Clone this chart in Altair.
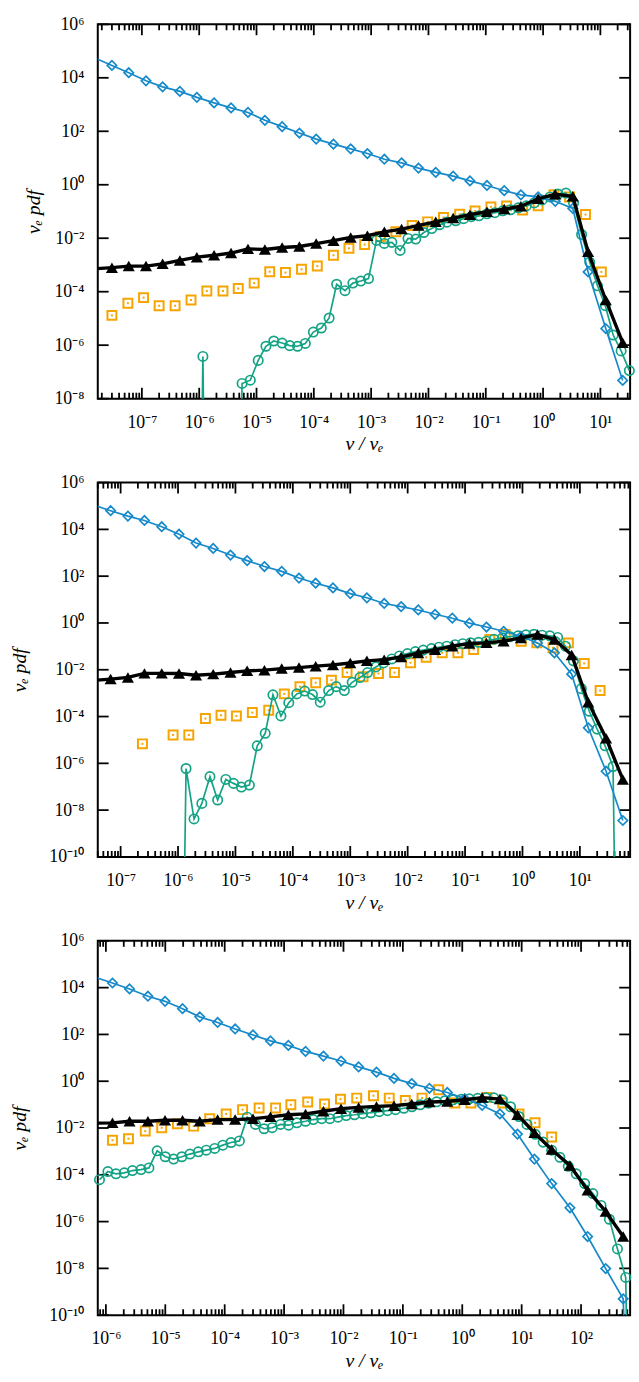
import json
import math
import altair as alt
import pandas as pd

FONT = "Liberation Serif"
BLUE = "#1589c9"
GREEN = "#14a384"
ORANGE = "#f6a400"
BLACK = "#000000"
TINY = 1e-30

PANEL_W = 539
PANEL_H = 379

# ---------------- panel 1 ----------------
P1_X_DOMAIN = [1.7e-8, 33.0]
P1_Y_DOMAIN = [1e-8, 1e6]
P1_X_MAJOR = [-7, -6, -5, -4, -3, -2, -1, 0, 1]
P1_Y_MAJOR = [-8, -6, -4, -2, 0, 2, 4, 6]
P1_GRID_X = [1.5e-8, 3.0e-8, 5.9e-8, 1.18e-7, 2.3e-7, 4.6e-7, 9.1e-7, 1.82e-6, 3.6e-6, 7.1e-6,
             1.4e-5, 2.8e-5, 5.6e-5, 1.1e-4, 2.2e-4, 4.4e-4, 8.6e-4, 1.7e-3, 3.4e-3, 6.7e-3,
             1.34e-2, 2.7e-2, 5.3e-2, 0.105, 0.21, 0.41, 0.82, 1.63, 3.3, 6.1, 12.4, 24.5]
P1_BLUE_Y = [5.6e4, 2.9e4, 1.55e4, 7.7e3, 4.6e3, 3.1e3, 1.86e3, 1.15e3, 750, 507,
             257, 149, 86, 51, 33, 22, 14.7, 9.0, 6.6, 4.2,
             2.9, 2.1, 1.39, 0.94, 0.60, 0.42, 0.35, 0.24, 0.13, 5.5e-4, 4.2e-6, 4.8e-8]
P1_BLACK_Y = [7.2e-4, 7.9e-4, 9.1e-4, 9.1e-4, 1.1e-3, 1.48e-3, 1.96e-3, 2.3e-3, 2.8e-3, 4.0e-3,
              3.8e-3, 4.5e-3, 4.9e-3, 6.3e-3, 8.1e-3, 1.07e-2, 1.24e-2, 1.74e-2, 2.2e-2, 3.0e-2,
              4.1e-2, 5.7e-2, 7.6e-2, 9.8e-2, 0.123, 0.158, 0.30, 0.44, 0.37, 3.1e-3, 4.9e-5, 1.24e-6]
P1_ORANGE_X = [3.0e-8, 5.7e-8, 1.07e-7, 2.0e-7, 3.8e-7, 7.2e-7, 1.36e-6, 2.6e-6, 4.8e-6, 9.1e-6,
               1.7e-5, 3.2e-5, 6.1e-5, 1.15e-4, 2.2e-4, 4.1e-4, 7.7e-4, 1.45e-3, 2.7e-3, 5.2e-3,
               9.7e-3, 1.83e-2, 3.5e-2, 6.5e-2, 0.123, 0.23, 0.44, 0.82, 1.55, 2.9, 5.5, 10.4]
P1_ORANGE_Y = [1.3e-5, 3.7e-5, 6.0e-5, 3.0e-5, 3.0e-5, 4.9e-5, 1.06e-4, 1.06e-4, 1.32e-4, 2.1e-4,
               5.6e-4, 5.2e-4, 6.9e-4, 9.1e-4, 2.3e-3, 4.2e-3, 5.8e-3, 1.16e-2, 1.74e-2, 3.0e-2,
               4.1e-2, 6.0e-2, 7.9e-2, 0.104, 0.149, 0.162, 0.113, 0.162, 0.42, 0.35, 7.7e-2, 5.5e-4]
P1_GREEN_X = [8.4e-7, 1.16e-6, 1.59e-6, 4.1e-6, 5.6e-6, 7.8e-6, 1.07e-5, 1.46e-5, 2.0e-5, 2.8e-5,
              3.8e-5, 5.2e-5, 7.1e-5, 9.8e-5, 1.35e-4, 1.85e-4, 2.5e-4, 3.5e-4, 4.8e-4, 6.6e-4,
              9.0e-4, 1.24e-3, 1.70e-3, 2.3e-3, 3.2e-3, 4.4e-3, 6.0e-3, 8.3e-3, 1.14e-2, 1.56e-2,
              2.1e-2, 3.0e-2, 4.1e-2, 5.6e-2, 7.6e-2, 0.105, 0.144, 0.198, 0.27, 0.37,
              0.51, 0.70, 0.96, 1.32, 1.82, 2.5, 3.4, 4.7, 6.5, 8.9, 12.2, 16.7, 23, 32]
P1_GREEN_Y = [TINY, 3.8e-7, TINY, TINY, 3.7e-8, 4.9e-8, 2.7e-7, 9.1e-7, 1.43e-6, 1.2e-6,
              9.6e-7, 9.1e-7, 1.16e-6, 3.1e-6, 4.4e-6, 1.04e-5, 1.9e-4, 1.09e-4, 2.1e-4, 2.5e-4,
              3.1e-4, 8.3e-3, 6.4e-3, 7.0e-3, 3.5e-3, 9.8e-3, 9.3e-3, 1.64e-2, 2.3e-2, 3.2e-2,
              4.0e-2, 4.5e-2, 5.4e-2, 6.4e-2, 6.9e-2, 8.2e-2, 9.0e-2, 0.106, 0.116, 0.137,
              0.162, 0.21, 0.27, 0.35, 0.45, 0.49, 0.21, 1.38e-2, 1.28e-3, 1.66e-4, 3.0e-5, 2.4e-6, 6.1e-7, 1.12e-7]

# ---------------- panel 2 ----------------
P2_X_DOMAIN = [4.0e-8, 75.0]
P2_Y_DOMAIN = [1e-10, 1e6]
P2_X_MAJOR = [-7, -6, -5, -4, -3, -2, -1, 0, 1]
P2_Y_MAJOR = [-10, -8, -6, -4, -2, 0, 2, 4, 6]
P2_GRID_X = [3.35e-8, 6.7e-8, 1.34e-7, 2.6e-7, 5.2e-7, 1.04e-6, 2.06e-6, 4.1e-6, 8.2e-6, 1.6e-5,
             3.2e-5, 6.4e-5, 1.28e-4, 2.5e-4, 5.0e-4, 1.0e-3, 1.95e-3, 3.9e-3, 7.7e-3, 1.53e-2,
             3.0e-2, 6.0e-2, 0.119, 0.236, 0.47, 0.94, 1.83, 3.6, 7.2, 14, 28.6, 56]
P2_BLUE_Y = [1.1e5, 6.3e4, 3.7e4, 2.4e4, 1.3e4, 6.2e3, 2.6e3, 1.53e3, 800, 464,
             259, 160, 83, 50, 31.5, 18, 11.9, 6.8, 5.0, 3.6,
             2.35, 1.6, 0.98, 0.67, 0.44, 0.27, 0.14, 0.053, 6.5e-3, 3.3e-5, 4.6e-7, 3.6e-9]
P2_BLACK_Y = [3.5e-3, 4.0e-3, 4.7e-3, 7.0e-3, 7.0e-3, 6.9e-3, 5.8e-3, 6.5e-3, 7.6e-3, 9.0e-3,
              9.6e-3, 1.12e-2, 1.24e-2, 1.42e-2, 1.61e-2, 1.95e-2, 2.4e-2, 2.7e-2, 3.5e-2, 5.2e-2,
              7.1e-2, 0.102, 0.132, 0.141, 0.166, 0.23, 0.32, 0.195, 4.3e-2, 4.1e-4, 1.18e-5, 2.05e-7]
P2_ORANGE_X = [2.4e-7, 8.2e-7, 1.54e-6, 3.0e-6, 5.6e-6, 1.04e-5, 1.97e-5, 3.8e-5, 7.1e-5, 1.33e-4,
               2.5e-4, 4.7e-4, 8.8e-4, 1.67e-3, 3.1e-3, 5.9e-3, 1.12e-2, 2.1e-2, 4.0e-2, 7.5e-2,
               0.141, 0.27, 0.50, 0.95, 1.78, 3.4, 6.3, 11.9, 22.5]
P2_ORANGE_Y = [6.8e-6, 1.63e-5, 1.63e-5, 8.2e-5, 1.13e-4, 1.06e-4, 1.48e-4, 1.85e-4, 9.3e-4, 1.9e-3,
               2.8e-3, 3.6e-3, 7.6e-3, 5.0e-3, 6.9e-3, 7.6e-3, 2.0e-2, 3.4e-2, 5.3e-2, 5.3e-2,
               7.4e-2, 0.195, 0.32, 0.166, 0.141, 8.7e-2, 0.141, 1.86e-2, 1.29e-3]
P2_GREEN_X = [1.0e-6, 1.38e-6, 1.90e-6, 2.6e-6, 3.6e-6, 4.9e-6, 6.8e-6, 9.3e-6, 1.27e-5, 1.75e-5,
              2.4e-5, 3.3e-5, 4.5e-5, 6.2e-5, 8.5e-5, 1.17e-4, 1.61e-4, 2.2e-4, 3.0e-4, 4.2e-4,
              5.7e-4, 7.9e-4, 1.08e-3, 1.48e-3, 2.0e-3, 2.8e-3, 3.8e-3, 5.3e-3, 7.2e-3, 9.9e-3,
              1.36e-2, 1.87e-2, 2.6e-2, 3.5e-2, 4.8e-2, 6.7e-2, 9.1e-2, 0.125, 0.172, 0.236,
              0.32, 0.45, 0.61, 0.84, 1.15, 1.58, 2.2, 3.0, 4.1, 5.6,
              7.7, 10.6, 14.6, 20, 27.5, 37.8, 52]
P2_GREEN_Y = [TINY, 6.0e-7, 4.2e-9, 1.94e-8, 2.7e-7, 2.7e-8, 2.05e-7, 1.39e-7, 9.7e-8, 1.18e-7,
              5.6e-6, 1.92e-5, 8.5e-4, 1.06e-4, 3.9e-4, 9.3e-4, 1.23e-3, 8.7e-4, 4.1e-4, 1.29e-3,
              1.9e-3, 1.29e-3, 2.9e-3, 4.7e-3, 7.6e-3, 1.32e-2, 1.95e-2, 2.9e-2, 3.9e-2, 4.9e-2,
              6.0e-2, 6.9e-2, 8.0e-2, 9.2e-2, 0.102, 0.118, 0.130, 0.143, 0.150, 0.166,
              0.20, 0.23, 0.26, 0.28, 0.31, 0.33, 0.30, 0.28, 0.24, 0.102,
              2.4e-2, 1.56e-3, 1.68e-4, 2.9e-5, 5.6e-6, 7.3e-7, TINY]

# ---------------- panel 3 ----------------
P3_X_DOMAIN = [7.3e-7, 670.0]
P3_Y_DOMAIN = [1e-10, 1e6]
P3_X_MAJOR = [-6, -5, -4, -3, -2, -1, 0, 1, 2]
P3_Y_MAJOR = [-10, -8, -6, -4, -2, 0, 2, 4, 6]
P3_GRID_X = [6.5e-7, 1.29e-6, 2.5e-6, 5.1e-6, 9.9e-6, 1.95e-5, 3.8e-5, 7.6e-5, 1.5e-4, 3.0e-4,
             5.9e-4, 1.18e-3, 2.3e-3, 4.6e-3, 9.1e-3, 1.8e-2, 3.6e-2, 7.1e-2, 0.141, 0.28,
             0.56, 1.1, 2.16, 4.3, 8.5, 16.4, 32, 65, 129, 260, 512]
P3_BLUE_X = [6.5e-7, 1.29e-6, 2.5e-6, 5.1e-6, 9.9e-6, 1.95e-5, 3.8e-5, 7.6e-5, 1.5e-4, 3.0e-4,
             5.9e-4, 1.18e-3, 2.3e-3, 4.6e-3, 9.1e-3, 1.8e-2, 3.6e-2, 7.1e-2, 0.141, 0.28,
             0.56, 1.1, 2.16, 4.3, 8.5, 16.4, 32, 65, 129, 260, 512, 1000]
P3_BLUE_Y = [2.8e4, 1.58e4, 8.8e3, 4.3e3, 2.6e3, 1.26e3, 564, 324, 171, 95,
             53, 34, 18.8, 11.9, 7.3, 4.1, 2.44, 1.32, 0.79, 0.50,
             0.33, 0.18, 0.092, 0.040, 5.5e-3, 4.7e-4, 4.2e-5, 3.9e-6, 2.3e-7, 9.8e-9, 5.0e-10, TINY]
P3_BLACK_Y = [1.6e-2, 1.67e-2, 1.95e-2, 1.95e-2, 2.15e-2, 2.15e-2, 1.95e-2, 2.3e-2, 2.3e-2, 2.5e-2,
              3.0e-2, 3.7e-2, 4.0e-2, 5.2e-2, 6.7e-2, 7.6e-2, 8.4e-2, 9.0e-2, 0.106, 0.129,
              0.136, 0.161, 0.20, 0.172, 3.7e-2, 6.3e-3, 1.21e-3, 2.5e-4, 2.2e-5, 2.7e-6, 2.3e-7]
P3_ORANGE_X = [1.29e-6, 2.4e-6, 4.6e-6, 8.7e-6, 1.6e-5, 3.0e-5, 5.6e-5, 1.06e-4, 2.0e-4, 3.8e-4,
               7.2e-4, 1.3e-3, 2.5e-3, 4.8e-3, 8.9e-3, 1.67e-2, 3.2e-2, 5.9e-2, 0.110, 0.21,
               0.40, 0.75, 1.4, 2.6, 4.8, 9.0, 16.8, 32]
P3_ORANGE_Y = [3.0e-3, 3.5e-3, 7.4e-3, 1.03e-2, 1.52e-2, 1.2e-2, 2.5e-2, 4.0e-2, 6.1e-2, 7.2e-2,
               7.2e-2, 9.9e-2, 0.13, 0.106, 0.172, 0.19, 0.24, 0.19, 0.150, 0.19,
               0.43, 0.117, 0.117, 0.20, 0.117, 4.0e-2, 1.67e-2, 4.1e-3]
P3_GREEN_X = [7.8e-7, 1.08e-6, 1.48e-6, 2.04e-6, 2.8e-6, 3.9e-6, 5.3e-6, 7.3e-6, 1.0e-5, 1.38e-5,
              1.90e-5, 2.6e-5, 3.6e-5, 4.9e-5, 6.8e-5, 9.3e-5, 1.28e-4, 1.77e-4, 2.4e-4, 3.3e-4,
              4.6e-4, 6.3e-4, 8.7e-4, 1.19e-3, 1.64e-3, 2.3e-3, 3.1e-3, 4.3e-3, 5.9e-3, 8.1e-3,
              1.11e-2, 1.53e-2, 2.1e-2, 2.9e-2, 4.0e-2, 5.5e-2, 7.5e-2, 0.104, 0.142, 0.196,
              0.27, 0.37, 0.51, 0.70, 0.96, 1.32, 1.82, 2.5, 3.4, 4.7,
              6.5, 9.0, 12.3, 16.9, 23, 32, 44, 61, 83, 115,
              158, 217, 300, 410, 565, 776]
P3_GREEN_Y = [6.2e-5, 1.38e-4, 1.10e-4, 1.21e-4, 1.52e-4, 1.67e-4, 1.97e-4, 1.06e-3, 5.9e-4, 4.7e-4,
              5.9e-4, 7.7e-4, 9.6e-4, 1.13e-3, 1.34e-3, 1.85e-3, 2.4e-3, 2.8e-3, 2.9e-2, 1.42e-2,
              9.3e-3, 1.03e-2, 1.42e-2, 1.32e-2, 1.67e-2, 1.95e-2, 2.3e-2, 2.5e-2, 2.5e-2, 2.9e-2,
              3.4e-2, 3.7e-2, 4.1e-2, 4.5e-2, 5.0e-2, 5.5e-2, 6.1e-2, 7.0e-2, 8.1e-2, 9.9e-2,
              0.115, 0.132, 0.146, 0.161, 0.169, 0.177, 0.186, 0.195, 0.195, 0.161,
              8.1e-2, 3.1e-2, 1.42e-2, 5.4e-3, 2.5e-3, 1.13e-3, 5.6e-4, 2.3e-4, 1.10e-4, 4.2e-5,
              1.58e-5, 4.9e-6, 1.26e-6, 6.8e-8, 4.1e-9, TINY]

X_TITLE = "v / vₑ"
Y_TITLE = "vₑ pdf"
SUP = str.maketrans("-0123456789", "⁻⁰¹²³⁴⁵⁶⁷⁸⁹")

MAJOR_LEN = 11
MINOR_LEN = 6
TICK_W = 1.8

AX = dict(domain=False, grid=False, ticks=False, tickSize=0,
          labelFont=FONT, labelFontSize=18, labelColor="black",
          titleFont=FONT, titleFontSize=20, titleFontStyle="italic",
          titleFontWeight="normal", titleColor="black",
          labelFlush=False, labelOverlap=False)


def minor_ticks(dom):
    lo = math.floor(math.log10(dom[0]))
    hi = math.ceil(math.log10(dom[1]))
    out = []
    for e in range(lo, hi + 1):
        for m in range(2, 10):
            v = m * 10.0 ** e
            if dom[0] <= v <= dom[1]:
                out.append(v)
    return out


def label_expr(exps):
    lo, hi = min(exps), max(exps)
    arr = ["10" + str(e).translate(SUP) for e in range(lo, hi + 1)]
    return json.dumps(arr, ensure_ascii=False) + "[round(log(datum.value)/LN10)+(%d)]" % (-lo)


def panel(xdom, ydom, xmaj, ymaj, blue, black, orange, green, ytitle_pad):
    xs = alt.Scale(type="log", domain=xdom, nice=False)
    ys = alt.Scale(type="log", domain=ydom, nice=False)
    xmajv = pd.DataFrame({"v": [10.0 ** e for e in xmaj]})
    ymajv = pd.DataFrame({"v": [10.0 ** e for e in ymaj]})
    xminv = pd.DataFrame({"v": minor_ticks(xdom)})
    corner = pd.DataFrame({"x": [xdom[0]], "y": [ydom[0]]})

    def X(f="x:Q"):
        return alt.X(f, scale=xs, axis=None)

    def Y(f="y:Q"):
        return alt.Y(f, scale=ys, axis=None)

    axis_layer = alt.Chart(corner).mark_point(opacity=0).encode(
        x=alt.X("x:Q", scale=xs, axis=alt.Axis(
            orient="bottom", values=list(xmajv["v"]), labelExpr=label_expr(xmaj),
            labelPadding=15, title=X_TITLE, titlePadding=3, **AX)),
        y=alt.Y("y:Q", scale=ys, axis=alt.Axis(
            orient="left", values=list(ymajv["v"]), labelExpr=label_expr(ymaj),
            labelPadding=14, title=Y_TITLE, titlePadding=ytitle_pad, **AX)))

    def vtick(d, length, yc):
        return alt.Chart(d).mark_tick(orient="vertical", size=length, thickness=TICK_W,
                                      color="black", opacity=1).encode(
            x=X("v:Q"), y=alt.value(yc))

    def htick(d, length, xc):
        return alt.Chart(d).mark_tick(orient="horizontal", size=length, thickness=TICK_W,
                                      color="black", opacity=1).encode(
            y=Y("v:Q"), x=alt.value(xc))

    tick_layers = [
        vtick(xmajv, MAJOR_LEN, PANEL_H - MAJOR_LEN / 2),
        vtick(xminv, MINOR_LEN, PANEL_H - MINOR_LEN / 2),
        vtick(xmajv, MAJOR_LEN, MAJOR_LEN / 2),
        vtick(xminv, MINOR_LEN, MINOR_LEN / 2),
        htick(ymajv, MAJOR_LEN, MAJOR_LEN / 2),
        htick(ymajv, MAJOR_LEN, PANEL_W - MAJOR_LEN / 2),
    ]

    inside = ("datum.x >= %g && datum.x <= %g && datum.y >= %g && datum.y <= %g"
              % (xdom[0], xdom[1], ydom[0], ydom[1]))

    def enc(ch):
        return ch.encode(x=X(), y=Y())

    def df(xv, yv):
        return pd.DataFrame({"x": xv, "y": yv})

    d_orange = df(*orange)
    d_green = df(*green)
    d_blue = df(*blue)
    d_black = df(*black)

    data_layers = [
        enc(alt.Chart(d_orange).transform_filter(inside).mark_point(
            shape="square", size=82, filled=False, strokeWidth=2.0, color=ORANGE, opacity=1)),
        enc(alt.Chart(d_orange).transform_filter(inside).mark_point(
            shape="square", size=4, filled=True, color=ORANGE, opacity=1)),
        enc(alt.Chart(d_green).mark_line(color=GREEN, strokeWidth=1.7, clip=True)),
        enc(alt.Chart(d_green).transform_filter(inside).mark_point(
            shape="circle", size=90, filled=False, strokeWidth=1.7, color=GREEN, opacity=1)),
        enc(alt.Chart(d_blue).mark_line(color=BLUE, strokeWidth=1.7, clip=True)),
        enc(alt.Chart(d_blue).transform_filter(inside).mark_point(
            shape="diamond", size=90, filled=False, strokeWidth=1.7, color=BLUE, opacity=1)),
        enc(alt.Chart(d_black).mark_line(color=BLACK, strokeWidth=3.4, clip=True)),
        enc(alt.Chart(d_black).transform_filter(inside).mark_point(
            shape="triangle-up", size=150, filled=True, color=BLACK, opacity=1)),
    ]
    return alt.layer(axis_layer, *tick_layers, *data_layers).properties(
        width=PANEL_W, height=PANEL_H).resolve_axis(x="independent", y="independent")


p1 = panel(P1_X_DOMAIN, P1_Y_DOMAIN, P1_X_MAJOR, P1_Y_MAJOR,
           (P1_GRID_X, P1_BLUE_Y), (P1_GRID_X, P1_BLACK_Y),
           (P1_ORANGE_X, P1_ORANGE_Y), (P1_GREEN_X, P1_GREEN_Y), 11)
p2 = panel(P2_X_DOMAIN, P2_Y_DOMAIN, P2_X_MAJOR, P2_Y_MAJOR,
           (P2_GRID_X, P2_BLUE_Y), (P2_GRID_X, P2_BLACK_Y),
           (P2_ORANGE_X, P2_ORANGE_Y), (P2_GREEN_X, P2_GREEN_Y), 20)
p3 = panel(P3_X_DOMAIN, P3_Y_DOMAIN, P3_X_MAJOR, P3_Y_MAJOR,
           (P3_BLUE_X, P3_BLUE_Y), (P3_GRID_X, P3_BLACK_Y),
           (P3_ORANGE_X, P3_ORANGE_Y), (P3_GREEN_X, P3_GREEN_Y), 20)

chart = alt.vconcat(p1, p2, p3, spacing=85, bounds="flush").properties(
    padding={"left": 8, "top": 6, "right": 0, "bottom": 0},
    background="white",
).configure_view(stroke="black", strokeWidth=2)

chart.save("out.html", embed_options={"renderer": "svg", "actions": False})
